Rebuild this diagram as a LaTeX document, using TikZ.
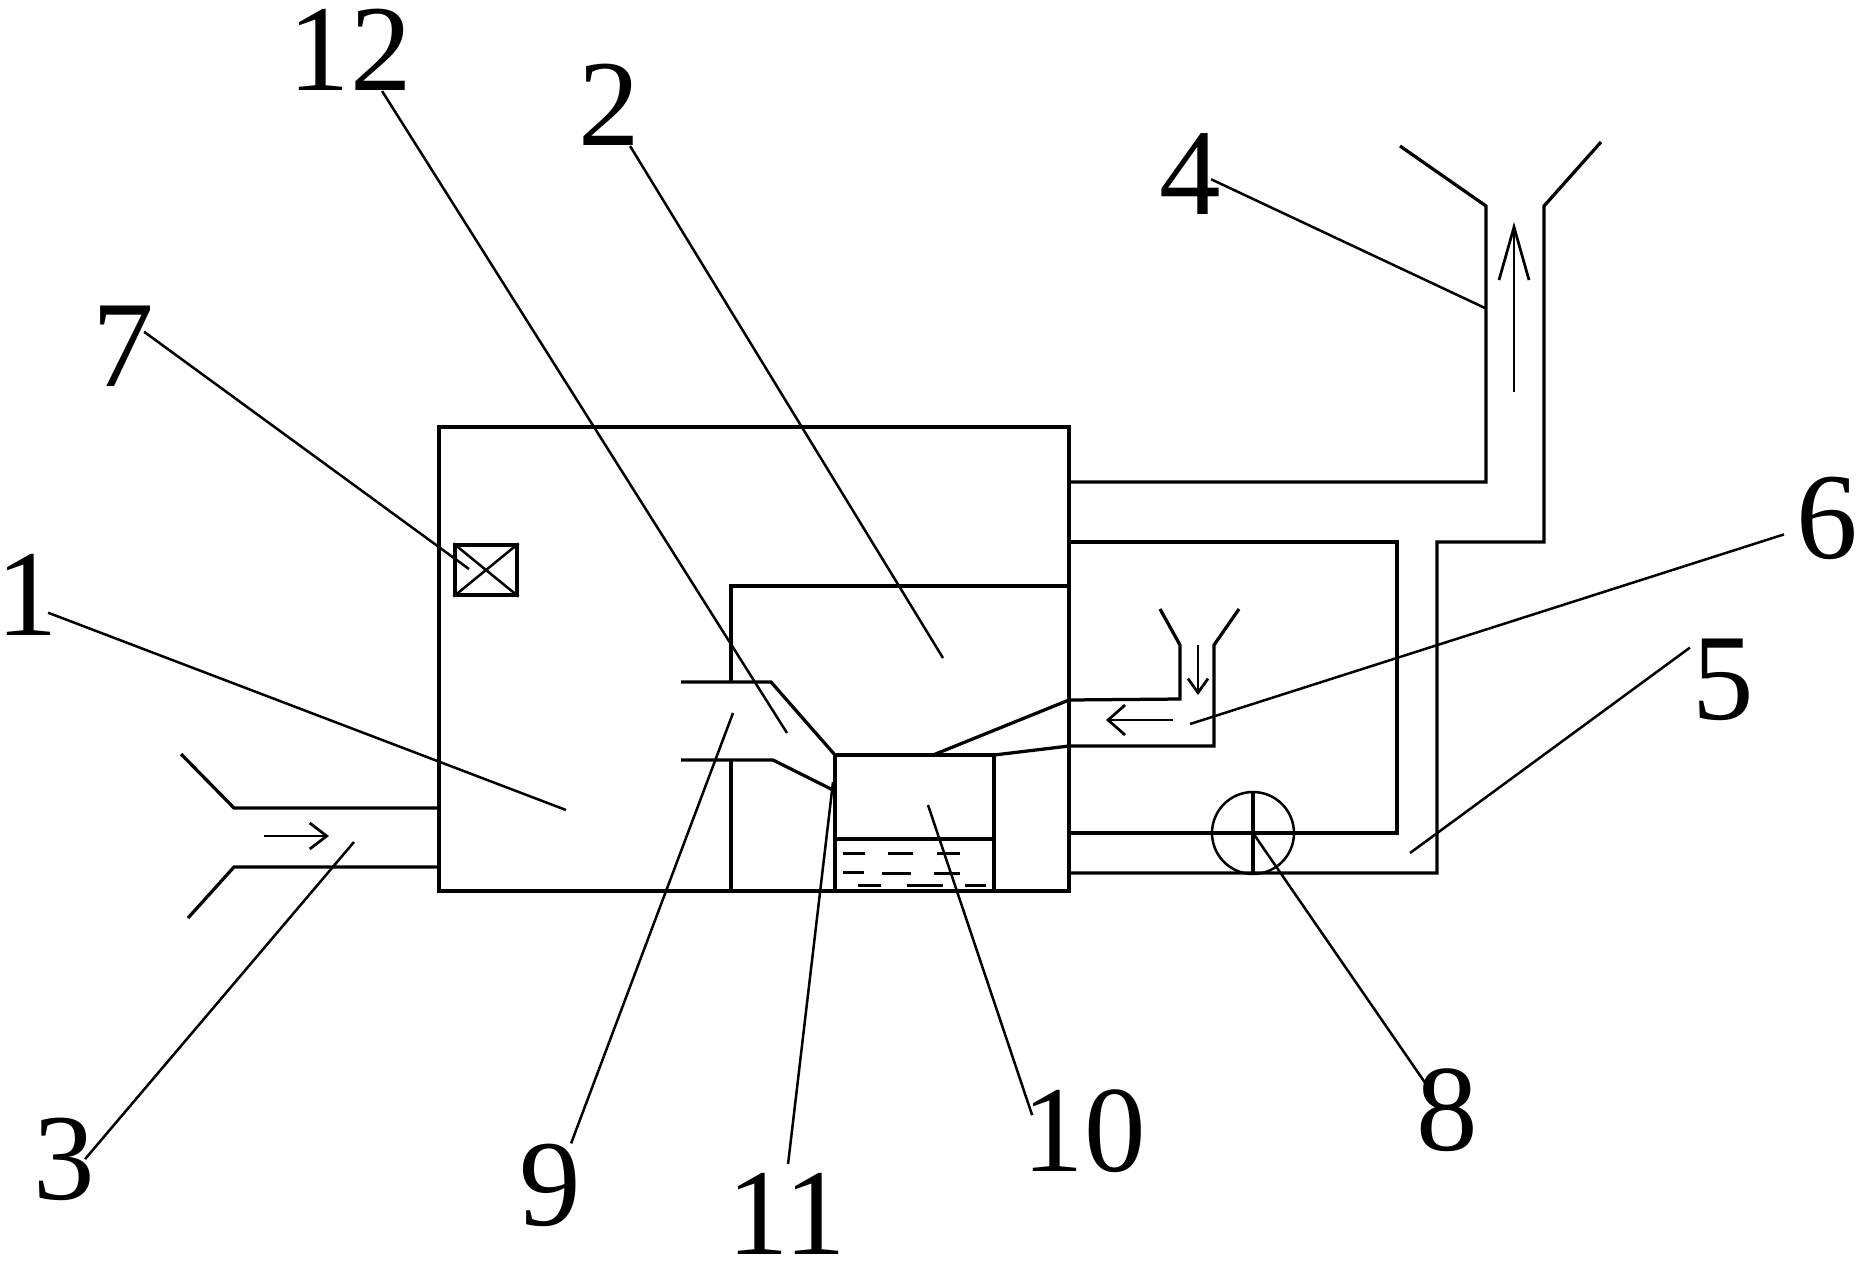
\documentclass[tikz,border=0pt]{standalone}
\usepackage{fontspec}
\setmainfont{Liberation Serif}
\usetikzlibrary{arrows.meta}
\begin{document}
\begin{tikzpicture}[x=0.02cm, y=-0.02cm]
        \tikzstyle{part}       = [line width=0.065cm, line join=miter]
        \tikzstyle{lead}       = [line width=0.05cm]
        \tikzstyle{num}        = [inner ysep=0pt, inner xsep=-0.2cm, font=\fontsize{70}{70}\selectfont]
        \tikzstyle{water}      = [line width=0.06cm]
        \tikzstyle{flow}       = [line width=0.055cm]

        \useasboundingbox (0,0) rectangle (1859,1262);

        % chamber
        \draw[part] (439,427) rectangle (1069,891);
        \draw[part] (731,682) -- (731,586) -- (1069,586);
        \draw[part] (731,760) -- (731,891);
        \draw[part] (681,682) -- (771,682) -- (835,755);
        \draw[part] (681,760) -- (773,760) -- (833,790);

        % tank
        \draw[part] (835,755) rectangle (994,891);
        \draw[part] (835,839) -- (994,839);
        \draw[water]
          (843,853) -- (865,853)
          (888,853) -- (913,853)
          (937,853) -- (960,853)
          (843,872) -- (864,872)
          (882,873) -- (911,873)
          (934,873) -- (960,873)
          (858,885) -- (881,885)
          (907,885) -- (943,885)
          (965,885) -- (986,885)
        ;

        % inlet
        \draw[part] (181,754) -- (234,808) -- (439,808);
        \draw[part] (188,918) -- (234,867) -- (439,867);
        \draw[flow, -{Straight Barb[length=0.34cm, width=0.52cm]}] (264,836) -- (329,836);

        % outlet
        \draw[part] (1069,482) -- (1486,482) -- (1486,206) -- (1400,146);
        \draw[part] (1069,542) -- (1397,542) -- (1397,833) -- (1069,833);
        \draw[part] (1069,873) -- (1437,873) -- (1437,542) -- (1544,542) -- (1544,206) -- (1601,142);
        \draw[flow, -{Straight Barb[length=1.06cm, width=0.6cm]}] (1514,392) -- (1514,222);

        % fresh air
        \draw[part] (933,755) -- (1069,700) -- (1180,699) -- (1180,645) -- (1160,609);
        \draw[part] (994,755) -- (1069,746) -- (1214,746) -- (1214,645) -- (1239,609);
        \draw[flow, -{Straight Barb[length=0.34cm, width=0.6cm]}] (1173,720) -- (1106,720);
        \draw[flow, -{Straight Barb[length=0.28cm, width=0.4cm]}] (1198,645) -- (1198,695);

        % fan
        \node[draw, circle, line width=0.05cm, minimum size=1.64cm, inner sep=0pt] at (1253,833) (fan) {};
        \draw[part] (fan.north) -- (fan.south);

        % sensor
        \node[draw, rectangle, line width=0.065cm, minimum width=1.24cm, minimum height=1.0cm, inner sep=0pt] at (486,570) (sensor) {};
        \draw[lead]
          (sensor.south west) -- (sensor.north east)
          (sensor.north west) -- (sensor.south east)
        ;

        % numbers
        \node[num] at (350,50)    (n12) {12};
        \node[num] at (609,105)   (n2)  {2};
        \node[num] at (1190,174)  (n4)  {4};
        \node[num] at (123,346)   (n7)  {7};
        \node[num] at (27,595)    (n1)  {1};
        \node[num] at (1827,518)  (n6)  {6};
        \node[num] at (1723,680)  (n5)  {5};
        \node[num] at (64,1159)   (n3)  {3};
        \node[num] at (550,1185)  (n9)  {9};
        \node[num] at (787,1214)  (n11) {11};
        \node[num] at (1084,1131) (n10) {10};
        \node[num] at (1447,1110) (n8)  {8};

        \coordinate (e12) at (787,733);
        \coordinate (e2)  at (943,658);
        \coordinate (e4)  at (1485,308);
        \coordinate (e7)  at (469,569);
        \coordinate (e1)  at (566,810);
        \coordinate (e6)  at (1190,724);
        \coordinate (e5)  at (1410,853);
        \coordinate (e3)  at (354,842);
        \coordinate (e9)  at (733,713);
        \coordinate (e11) at (833,782);
        \coordinate (e10) at (928,805);
        \coordinate (e8)  at (1253,833);

        \draw[lead]
          (n12.-52) -- (e12)
          (n2.south east) -- (e2)
          (n4.-14) -- (e4)
          (n7.34) -- (e7)
          (n1.-40) -- (e1)
          (n3.east) -- (e3)
          (n9.north east) -- (e9)
          (n10.163) -- (e10)
          (n8.129) -- (e8)
        ;
        \draw[lead, shorten <=0.46cm] (n6.204) -- (e6);
        \draw[lead, shorten <=0.3cm] (n5.north west) -- (e5);
        \draw[lead, shorten <=0.18cm] (n11.north) -- (e11);
      \end{tikzpicture}
\end{document}
